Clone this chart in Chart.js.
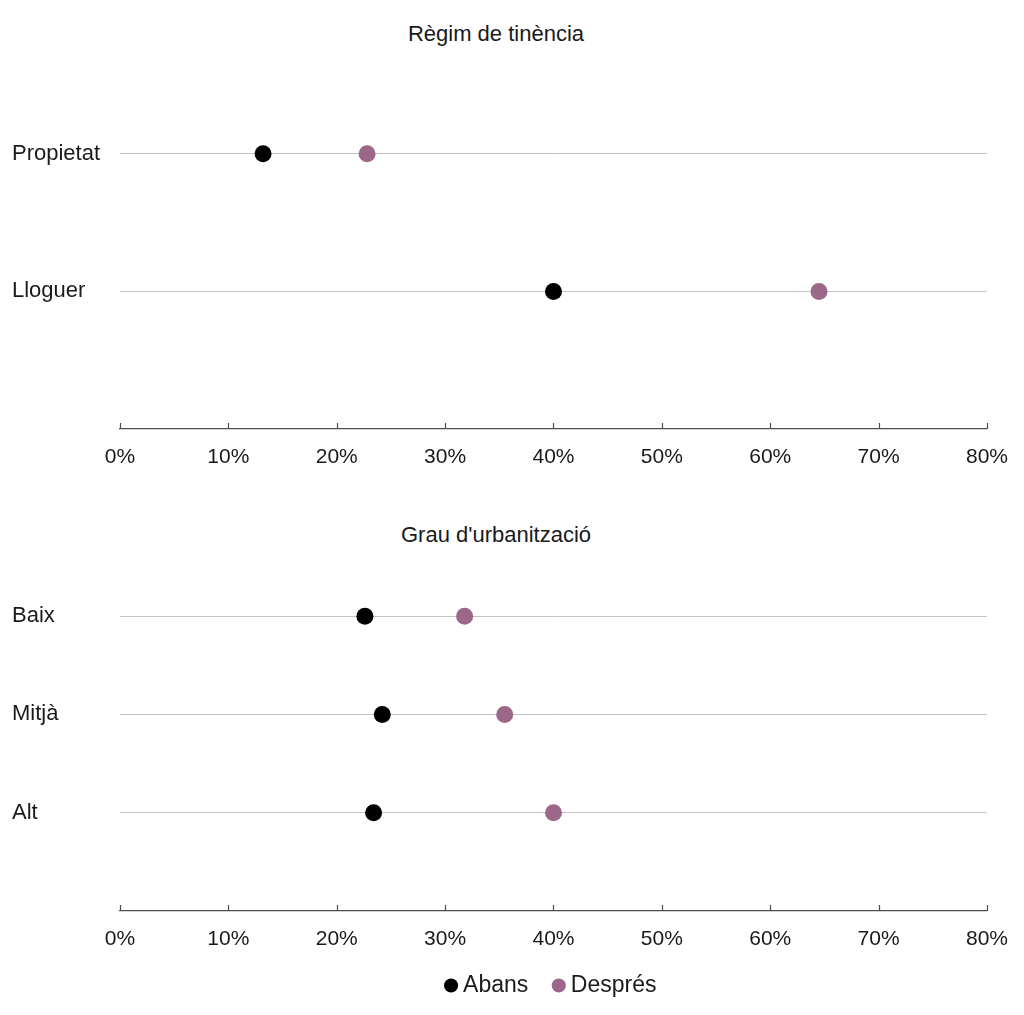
<!DOCTYPE html>
<html>
<head>
<meta charset="utf-8">
<script src="https://cdn.jsdelivr.net/npm/chart.js@4.4.1/dist/chart.umd.min.js"></script>
<style>
  html, body { margin: 0; padding: 0; background: #fff; }
  body { width: 1024px; height: 1015px; position: relative; overflow: hidden;
         font-family: 'Liberation Sans', Arial, sans-serif; color: #1a1a1a; }
  .panel { position: absolute; left: 0; width: 1024px; }
  .title { position: absolute; left: 296px; width: 400px; text-align: center;
           font-size: 22px; line-height: 24px; }
</style>
</head>
<body>
<div class="title" style="top:22px;">Règim de tinència</div>
<div class="title" style="top:523px;">Grau d'urbanització</div>
<div class="panel" style="top:0;height:490px;"><canvas id="tenureChart"></canvas></div>
<div class="panel" style="top:490px;height:525px;"><canvas id="urbanChart"></canvas></div>
<script>
// data (percent)
const seriesNames = ['Abans', 'Després'];
const tenureCats = ['Propietat', 'Lloguer'];
const tenureAbans = [13.2, 40.0];
const tenureDespres = [22.8, 64.5];
const urbanCats = ['Baix', 'Mitjà', 'Alt'];
const urbanAbans = [22.6, 24.2, 23.4];
const urbanDespres = [31.8, 35.5, 40.0];
const xTicks = [0, 10, 20, 30, 40, 50, 60, 70, 80];

const colAbans = '#000000';
const colDespres = '#9c6788';
const font = "'Liberation Sans', Arial, sans-serif";

Chart.defaults.font.family = font;
Chart.defaults.color = '#1a1a1a';

// small tick marks pointing up from the x axis line
const upTicks = {
  id: 'upTicks',
  afterDraw(chart) {
    const sx = chart.scales.x;
    const ctx = chart.ctx;
    ctx.save();
    ctx.strokeStyle = '#4d4d4d';
    ctx.lineWidth = 1.2;
    ctx.beginPath();
    xTicks.forEach(v => {
      const px = Math.round(sx.getPixelForValue(v)) + 0.5;
      ctx.moveTo(px, sx.top);
      ctx.lineTo(px, sx.top - 6);
    });
    ctx.stroke();
    ctx.restore();
  }
};

const makeChart = (id, cats, abans, despres, padding, withLegend, axisHeight) => {
  const pts = arr => arr.map((v, i) => ({ x: v, y: i }));
  return new Chart(document.getElementById(id), {
    type: 'scatter',
    data: {
      datasets: [
        { label: seriesNames[0], data: pts(abans), backgroundColor: colAbans, borderWidth: 0,
          pointRadius: 8.5, pointHoverRadius: 8.5, pointStyle: 'circle' },
        { label: seriesNames[1], data: pts(despres), backgroundColor: colDespres, borderWidth: 0,
          pointRadius: 8.5, pointHoverRadius: 8.5, pointStyle: 'circle' }
      ]
    },
    options: {
      responsive: true,
      maintainAspectRatio: false,
      animation: false,
      events: [],
      layout: { padding },
      scales: {
        x: {
          type: 'linear',
          min: xTicks[0],
          max: xTicks[xTicks.length - 1],
          afterBuildTicks: s => { s.ticks = xTicks.map(v => ({ value: v })); },
          afterFit: s => {
            s.height = axisHeight;
            // let the % labels hang below the (shortened) axis box
            s._computeLabelArea = () => undefined;
          },
          grid: { display: true, drawOnChartArea: false, drawTicks: false },
          border: { display: true, color: '#4d4d4d', width: 1.2 },
          ticks: { font: { size: 21 }, padding: 16, maxRotation: 0, callback: v => v + '%' }
        },
        y: {
          type: 'linear',
          reverse: true,
          min: -0.5,
          max: cats.length,
          afterBuildTicks: s => { s.ticks = cats.map((c, i) => ({ value: i })); },
          afterFit: s => { s.width = 108; },
          grid: { color: '#c4c4c4', lineWidth: 1, drawTicks: false },
          border: { display: false },
          ticks: { font: { size: 22 }, crossAlign: 'far', padding: 0, callback: v => cats[v] }
        }
      },
      plugins: {
        legend: withLegend ? {
          display: true,
          position: 'bottom',
          fullSize: false,
          labels: { usePointStyle: true, boxWidth: 1, boxHeight: 10, padding: 30,
                    font: { size: 23 }, color: '#1a1a1a' }
        } : { display: false },
        tooltip: { enabled: false },
        title: { display: false }
      }
    },
    plugins: [upTicks]
  });
};

makeChart('tenureChart', tenureCats, tenureAbans, tenureDespres,
  { top: 85, left: 12, right: 37, bottom: 1 }, false, 60);
makeChart('urbanChart', urbanCats, urbanAbans, urbanDespres,
  { top: 77, left: 12, right: 37, bottom: 8 }, true, 33);
</script>
</body>
</html>
